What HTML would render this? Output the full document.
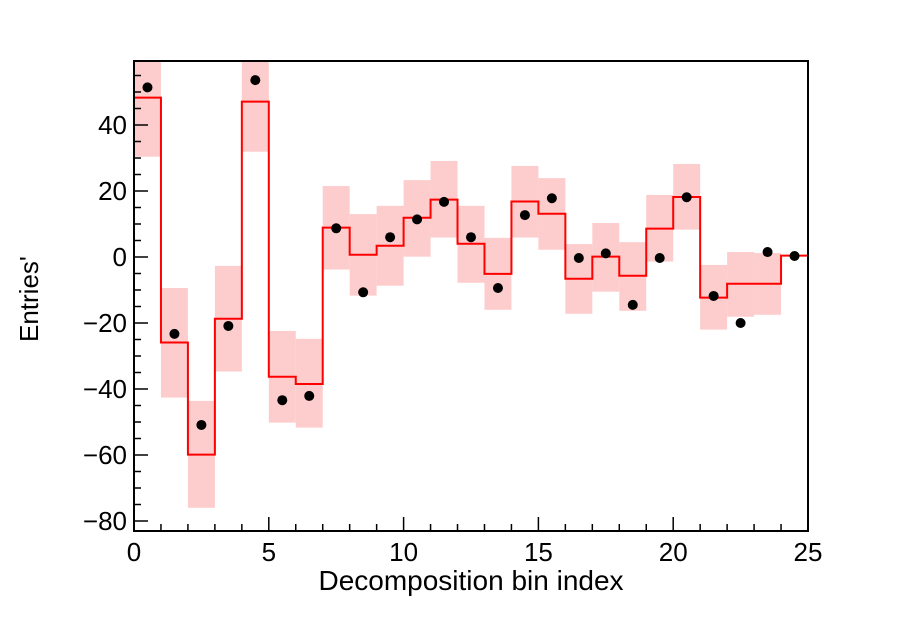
<!DOCTYPE html>
<html><head><meta charset="utf-8"><style>
body{margin:0;background:#fff}
svg text{font-family:"Liberation Sans",sans-serif;fill:#000}
</style></head><body>
<svg id="c" width="898" height="625" xmlns="http://www.w3.org/2000/svg"></svg>
<script>
const lineVals=[48.3,-25.9,-59.9,-18.7,47.1,-36.3,-38.5,8.9,0.7,3.4,11.9,17.4,4,-5.1,16.8,13.1,-6.6,0.1,-5.7,8.6,18.2,-12.3,-8.1,-8.1,0.4];
const bandHi=[66,-9.4,-43.6,-2.7,62,-22.4,-24.8,21.5,13,15.5,23.3,29.1,15.5,5.8,27.6,23.9,3.9,10.3,4.5,18.8,28.2,-2.4,1.5,1.2,0.4];
const bandLo=[30.4,-42.6,-76,-34.7,31.9,-50.2,-51.7,-3.8,-11.7,-8.7,0.1,5.9,-7.8,-16,5.9,2.2,-17.2,-10.5,-16.3,-1.4,8.3,-22,-18.1,-17.5,0.4];
const points=[51.4,-23.3,-50.9,-20.9,53.6,-43.4,-42.1,8.7,-10.7,6,11.4,16.7,6,-9.4,12.7,17.8,-0.3,1.1,-14.5,-0.3,18.1,-11.8,-20,1.5,0.3];
const xTicks=[0,5,10,15,20,25];
const yTicks=[-80,-60,-40,-20,0,20,40];
const X0=134,X1=808,YT=61,YB=531;
const xs=v=>X0+(X1-X0)*v/25;
const ys=v=>257-3.3*v;
const NS="http://www.w3.org/2000/svg";
const svg=document.getElementById('c');
function mk(t,a,p){const e=document.createElementNS(NS,t);for(const k in a)e.setAttribute(k,a[k]);(p||svg).appendChild(e);return e;}
const cp=mk('clipPath',{id:'clp'});
mk('rect',{x:X0,y:YT,width:X1-X0,height:YB-YT},cp);
const g=mk('g',{'clip-path':'url(#clp)'});


bandHi.forEach((h,i)=>{
 const r=mk('rect',{x:xs(i),y:ys(h),width:xs(i+1)-xs(i),height:Math.max(0,ys(bandLo[i])-ys(h)),fill:'#fdcccc'},g);
 
 
});
let d='';
lineVals.forEach((v,i)=>{d+=(i?'L':'M')+xs(i)+','+ys(v)+'L'+xs(i+1)+','+ys(v);});
const pl=mk('path',{d:d,fill:'none',stroke:'#f00','stroke-width':2},g);


points.forEach((v,i)=>{
 const c=mk('circle',{cx:xs(i+0.5),cy:ys(v),r:5,fill:'#000'},g);
 
 
});
const fr=mk('rect',{x:X0,y:YT,width:X1-X0,height:YB-YT,fill:'none',stroke:'#000','stroke-width':2});


for(let i=0;i<=25;i++){const L=i%5?7:14;mk('line',{x1:xs(i),x2:xs(i),y1:YB,y2:YB-L,stroke:'#000','stroke-width':1.5});}
for(let v=-80;v<=55;v+=5){const L=v%20?7:14;mk('line',{x1:X0,x2:X0+L,y1:ys(v),y2:ys(v),stroke:'#000','stroke-width':1.5});}
xTicks.forEach(v=>{const t=mk('text',{x:xs(v),y:561,'font-size':26,'text-anchor':'middle'});t.textContent=v;
 });
yTicks.forEach(v=>{const t=mk('text',{x:127,y:ys(v)+9,'font-size':26,'text-anchor':'end'});t.textContent=v<0?'\u2212'+(-v):v;
 });
const xt=mk('text',{x:471,y:590,'font-size':28,'text-anchor':'middle'});xt.textContent='Decomposition bin index';

const yt=mk('text',{x:0,y:0,'font-size':26,'text-anchor':'start',transform:'translate(38,342) rotate(-90)'});
yt.textContent="Entries'";

</script>
</body></html>
